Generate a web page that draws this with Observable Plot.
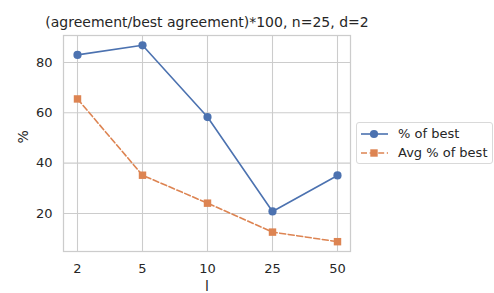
<!DOCTYPE html>
<html>
<head>
<meta charset="utf-8">
<script src="https://cdn.jsdelivr.net/npm/d3@7"></script>
<script src="https://cdn.jsdelivr.net/npm/@observablehq/plot@0.6"></script>
<style>
  html, body { margin: 0; padding: 0; background: #fff; }
  #wrap { position: relative; width: 494px; height: 293px; font-family: "DejaVu Sans", sans-serif; color: #262626; }
  #legend { position: absolute; left: 356px; top: 122px; width: 135px; height: 40px; border: 1px solid #d9d9d9; border-radius: 3px; background: #fff; }
  #legend .row { position: absolute; left: 0; height: 19px; display: flex; align-items: center; font-size: 13px; white-space: nowrap; }
  #legend svg { margin-left: 4px; margin-right: 10px; }
</style>
</head>
<body>
<div id="wrap"></div>
<script>
const ls = ["2", "5", "10", "25", "50"];
const pctBest = [83.0, 86.8, 58.3, 20.8, 35.1];
const avgPctBest = [65.5, 35.2, 24.1, 12.6, 8.8];
const seriesNames = ["% of best", "Avg % of best"];
const seriesColors = ["#4c72b0", "#dd8452"];
const yTicks = [20, 40, 60, 80];
const title = "(agreement/best agreement)*100, n=25, d=2";
const xLabel = "l";
const yLabel = "%";

const rows = [];
ls.forEach((l, i) => rows.push({l, v: pctBest[i], s: seriesNames[0]}));
ls.forEach((l, i) => rows.push({l, v: avgPctBest[i], s: seriesNames[1]}));
const s0 = rows.filter(d => d.s === seriesNames[0]);
const s1 = rows.filter(d => d.s === seriesNames[1]);

const allV = pctBest.concat(avgPctBest);
const vmin = d3.min(allV), vmax = d3.max(allV), m = (vmax - vmin) * 0.05;

const chart = Plot.plot({
  width: 494,
  height: 293,
  marginLeft: 63,
  marginRight: 144,
  marginTop: 35,
  marginBottom: 42,
  style: {fontFamily: "DejaVu Sans, sans-serif", fontSize: "13px", color: "#262626", background: "#fff"},
  x: {type: "point", domain: ls, padding: 0.2},
  y: {domain: [vmin - m, vmax + m]},
  marks: [
    Plot.gridX(ls, {stroke: "#cccccc", strokeOpacity: 1, strokeWidth: 1.1}),
    Plot.gridY(yTicks, {stroke: "#cccccc", strokeOpacity: 1, strokeWidth: 1.1}),
    Plot.frame({stroke: "#cccccc", strokeWidth: 1.25}),
    Plot.axisX({ticks: ls, tickSize: 0, tickPadding: 12, label: null, fontSize: 13}),
    Plot.axisY({ticks: yTicks, tickSize: 0, tickPadding: 11, label: null, fontSize: 13}),
    Plot.text([yLabel], {frameAnchor: "left", dx: -40, rotate: -90, fontSize: 14, fill: "#262626"}),
    Plot.text([xLabel], {frameAnchor: "bottom", lineAnchor: "middle", dy: 35, fontSize: 14, fill: "#262626"}),
    Plot.text([title], {frameAnchor: "top", lineAnchor: "middle", dy: -12.5, fontSize: 14, fill: "#262626"}),
    Plot.line(s0, {x: "l", y: "v", stroke: seriesColors[0], strokeWidth: 1.6}),
    Plot.line(s1, {x: "l", y: "v", stroke: seriesColors[1], strokeWidth: 1.6, strokeDasharray: "6,2.6"}),
    Plot.dot(s0, {x: "l", y: "v", fill: seriesColors[0], r: 4.1, symbol: "circle"}),
    Plot.dot(s1, {x: "l", y: "v", fill: seriesColors[1], r: 4.2, symbol: "square"})
  ]
});

const wrap = document.getElementById("wrap");
wrap.appendChild(chart);

const legend = document.createElement("div");
legend.id = "legend";
seriesNames.forEach((name, i) => {
  const row = document.createElement("div");
  row.className = "row";
  row.style.top = (i === 0 ? 1 : 20) + "px";
  const dash = i === 1 ? ' stroke-dasharray="6,2.6"' : '';
  const marker = i === 0
    ? `<circle cx="13" cy="9" r="4.1" fill="${seriesColors[i]}"/>`
    : `<rect x="9.3" y="5.3" width="7.4" height="7.4" fill="${seriesColors[i]}"/>`;
  row.innerHTML = `<svg width="27" height="18"><line x1="0" x2="27" y1="9" y2="9" stroke="${seriesColors[i]}" stroke-width="1.6"${dash}/>${marker}</svg><span>${name}</span>`;
  legend.appendChild(row);
});
wrap.appendChild(legend);
</script>
</body>
</html>
